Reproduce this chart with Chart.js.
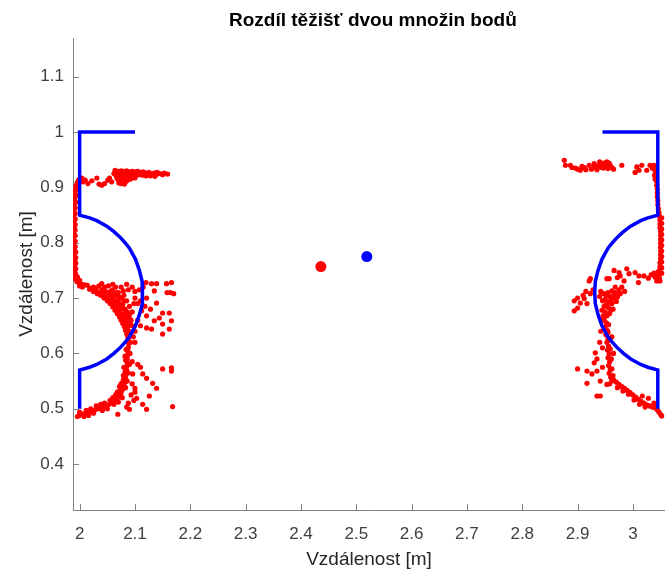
<!DOCTYPE html>
<html>
<head>
<meta charset="utf-8">
<script src="https://cdn.jsdelivr.net/npm/chart.js@4"></script>
<style>
html, body { margin: 0; padding: 0; background: #fff; }
</style>
</head>
<body>
<canvas id="myChart" width="665" height="573"></canvas>
<script>
// texts
const titleText = 'Rozdíl těžišť dvou množin bodů';
const xLabel = 'Vzdálenost [m]';
const yLabel = 'Vzdálenost [m]';

// tick labels
const xTicks = [2, 2.1, 2.2, 2.3, 2.4, 2.5, 2.6, 2.7, 2.8, 2.9, 3];
const yTicks = [0.4, 0.5, 0.6, 0.7, 0.8, 0.9, 1, 1.1];

// blue outlines (left / right)
const blueLeft = [[2.1,1.0],[2.0,1.0],[2.0,0.85],[2.018,0.845],[2.031,0.84],[2.049,0.83],[2.062,0.82],[2.073,0.81],[2.082,0.80],[2.090,0.79],[2.101,0.77],[2.108,0.75],[2.113,0.73],[2.114,0.71],[2.113,0.69],[2.108,0.67],[2.101,0.65],[2.090,0.63],[2.082,0.62],[2.073,0.61],[2.062,0.60],[2.049,0.59],[2.031,0.58],[2.018,0.575],[2.0,0.57],[2.0,0.5]];
const blueRight = [[2.945,1.0],[3.045,1.0],[3.045,0.85],[3.027,0.845],[3.014,0.84],[2.996,0.83],[2.983,0.82],[2.972,0.81],[2.963,0.80],[2.955,0.79],[2.944,0.77],[2.937,0.75],[2.932,0.73],[2.931,0.71],[2.932,0.69],[2.937,0.67],[2.944,0.65],[2.955,0.63],[2.963,0.62],[2.972,0.61],[2.983,0.60],[2.996,0.59],[3.014,0.58],[3.027,0.575],[3.045,0.57],[3.045,0.5]];

// centroids
const redCentroid = [2.436, 0.757];
const blueCentroid = [2.519, 0.775];

// red points - left side
const leftWall = [[1.990,0.74],[1.992,0.745],[1.990,0.75],[1.991,0.756],[1.989,0.762],[1.991,0.768],[1.990,0.774],[1.989,0.78],[1.991,0.786],[1.990,0.792],[1.989,0.798],[1.990,0.804],[1.989,0.81],[1.990,0.816],[1.989,0.822],[1.990,0.828],[1.989,0.834],[1.990,0.84],[1.989,0.846],[1.990,0.852],[1.989,0.858],[1.990,0.864],[1.990,0.87],[1.991,0.876],[1.991,0.882],[1.992,0.888],[1.992,0.894],[1.993,0.899],[1.994,0.904],[1.996,0.909],[1.998,0.913],[2.001,0.916],[2.004,0.917],
  [1.993,0.743],[1.993,0.753],[1.993,0.763],[1.993,0.773],[1.993,0.783],[1.992,0.793],[1.992,0.803],[1.992,0.813],[1.992,0.823],[1.992,0.833],[1.992,0.843],[1.992,0.853],[1.992,0.863],[1.993,0.873],[1.994,0.885],[1.996,0.897],[1.998,0.905],
  [1.992,0.735],[1.995,0.73],[1.999,0.727],[2.004,0.725],[2.009,0.724],[2.014,0.723],[2.005,0.72],[2.0,0.722],[1.996,0.738],[2.0,0.732]];
const leftTop = [[2.065,0.928],[2.07,0.929],[2.075,0.93],[2.08,0.929],[2.085,0.93],[2.09,0.928],[2.066,0.922],[2.072,0.923],[2.078,0.924],[2.084,0.923],[2.09,0.922],[2.068,0.916],[2.074,0.917],[2.08,0.918],[2.086,0.917],[2.072,0.911],[2.078,0.912],[2.084,0.911],[2.075,0.907],[2.081,0.906],[2.062,0.925],[2.07,0.914],
  [2.067,0.919],[2.073,0.926],[2.079,0.915],[2.083,0.927],[2.088,0.925],[2.077,0.92],[2.071,0.908],[2.086,0.913],[2.093,0.926],[2.064,0.931],
  [2.095,0.929],[2.1,0.928],[2.105,0.929],[2.11,0.927],[2.115,0.928],[2.12,0.926],[2.125,0.927],[2.13,0.925],[2.135,0.926],[2.14,0.924],[2.096,0.923],[2.102,0.922],[2.108,0.923],[2.114,0.922],[2.12,0.921],[2.128,0.921],[2.136,0.92],[2.145,0.925],[2.153,0.926],[2.159,0.924],[2.1,0.917],[2.092,0.915],
  [2.098,0.925],[2.104,0.925],[2.112,0.925],[2.118,0.924],[2.124,0.923],[2.132,0.923],[2.14,0.927],[2.15,0.923],
  [2.015,0.907],[2.031,0.917],[2.035,0.906],[2.04,0.904],[2.045,0.907],[2.051,0.913],[2.054,0.917],[2.006,0.91],[2.01,0.913],[2.022,0.912],[2.058,0.91]];
const leftDiag = [[2.018,0.716],[2.025,0.712],[2.032,0.708],[2.038,0.705],[2.044,0.70],[2.05,0.695],[2.055,0.69],[2.06,0.684],[2.064,0.678],[2.068,0.672],[2.072,0.666],[2.075,0.66],[2.078,0.654],[2.081,0.648],[2.083,0.642],[2.085,0.636],[2.087,0.63],
  [2.022,0.718],[2.029,0.714],[2.036,0.71],[2.042,0.707],[2.048,0.702],[2.053,0.697],[2.058,0.692],[2.062,0.687],[2.066,0.681],[2.07,0.675],[2.074,0.669],[2.077,0.663],[2.08,0.657],[2.083,0.651],[2.085,0.645],[2.087,0.639],
  [2.03,0.718],[2.04,0.715],[2.045,0.72],[2.05,0.71],[2.055,0.705],[2.06,0.715],[2.058,0.698],[2.065,0.705],[2.063,0.692],[2.07,0.695],[2.068,0.685],[2.074,0.688],[2.072,0.678],[2.078,0.68],[2.076,0.67],[2.082,0.672],[2.08,0.662],[2.085,0.665],[2.084,0.655],[2.088,0.658],[2.087,0.648],[2.09,0.64],[2.075,0.72],[2.07,0.71],[2.08,0.705],[2.085,0.695],[2.09,0.685],[2.095,0.675],[2.09,0.67],[2.093,0.66],[2.095,0.65],[2.06,0.725],[2.065,0.72],[2.085,0.725],[2.095,0.72],[2.1,0.712],[2.1,0.70],[2.105,0.69],[2.098,0.69],[2.088,0.715],[2.052,0.722],[2.04,0.726],[2.025,0.72],[2.035,0.722],
  [2.062,0.698],[2.067,0.69],[2.072,0.684],[2.078,0.688],[2.082,0.68],[2.076,0.7],[2.071,0.702],[2.067,0.71],[2.061,0.706],[2.056,0.712],[2.08,0.695],[2.086,0.675],[2.089,0.665],[2.092,0.652],[2.079,0.713],[2.046,0.712]];
const leftNeck = [[2.088,0.625],[2.089,0.618],[2.088,0.611],[2.087,0.604],[2.087,0.597],[2.086,0.59],[2.086,0.583],[2.085,0.576],[2.085,0.569],[2.084,0.562],[2.083,0.555],[2.082,0.548],[2.08,0.541],[2.078,0.535],[2.075,0.529],[2.072,0.523],[2.068,0.518],[2.063,0.514],[2.058,0.51],[2.052,0.507],[2.046,0.504],[2.04,0.502],[2.034,0.50],[2.028,0.498],[2.022,0.496],[2.016,0.494],[2.01,0.492],[2.004,0.49],[1.999,0.488],[1.996,0.486],
  [2.092,0.62],[2.091,0.60],[2.082,0.595],[2.09,0.58],[2.08,0.575],[2.079,0.56],[2.088,0.565],[2.086,0.55],[2.075,0.545],[2.072,0.54],[2.083,0.538],[2.068,0.53],[2.065,0.525],[2.077,0.52],[2.06,0.52],[2.055,0.515],[2.07,0.512],[2.045,0.51],[2.05,0.50],[2.038,0.508],[2.03,0.505],[2.025,0.492],[2.02,0.50],[2.012,0.497],[2.0,0.494],[2.008,0.486],
  [2.084,0.607],[2.083,0.588],[2.082,0.566],[2.079,0.552],[2.077,0.547],[2.073,0.533],[2.067,0.522],[2.062,0.508],[2.041,0.497],[2.016,0.488]];
const leftScatter = [[2.095,0.545],[2.1,0.53],[2.093,0.525],[2.088,0.51],[2.098,0.515],[2.085,0.503],[2.069,0.49],[2.09,0.499],[2.103,0.519],[2.1,0.537],[2.096,0.563],[2.114,0.563],[2.121,0.555],[2.132,0.546],[2.139,0.537],[2.126,0.523],[2.114,0.508],[2.121,0.499],[2.168,0.504],[2.15,0.572],[2.166,0.574],[2.166,0.568],[2.105,0.58],[2.11,0.575],[2.095,0.585],
  [2.13,0.726],[2.139,0.726],[2.157,0.726],[2.166,0.728],[2.164,0.71],[2.17,0.708],[2.158,0.71],[2.135,0.713],[2.121,0.70],[2.139,0.691],[2.15,0.673],[2.144,0.664],[2.162,0.673],[2.166,0.659],[2.15,0.653],[2.135,0.659],[2.121,0.646],[2.13,0.644],[2.162,0.644],[2.15,0.635],[2.121,0.668],[2.112,0.677],[2.108,0.715],[2.115,0.72],[2.12,0.728],[2.11,0.695],[2.105,0.66],[2.11,0.65],[2.1,0.64],[2.118,0.685],[2.128,0.68],[2.097,0.63],[2.1,0.62]];

// red points - right side
const rightTop = [[2.876,0.949],[2.878,0.94],[2.887,0.94],[2.896,0.935],[2.905,0.931],[2.912,0.936],[2.921,0.94],[2.93,0.937],[2.939,0.94],[2.948,0.944],[2.953,0.946],[2.959,0.94],[2.98,0.94],[2.925,0.933],[2.935,0.932],[2.943,0.936],[2.95,0.938],[2.955,0.934],[2.945,0.94],[2.94,0.946],[2.957,0.944],[2.915,0.932],[2.90,0.933],[2.89,0.936],[2.908,0.938],[2.93,0.943],[2.962,0.936],[2.965,0.933],
  [2.936,0.938],[2.944,0.943],[2.951,0.941],[2.947,0.935],[2.958,0.937],
  [3.007,0.937],[3.011,0.931],[3.004,0.927],[3.016,0.94],[3.025,0.931],[3.031,0.94]];
const rightWall = [[3.038,0.94],[3.041,0.937],[3.035,0.935],[3.04,0.93],[3.042,0.925],[3.042,0.918],[3.043,0.911],[3.043,0.904],[3.044,0.897],[3.044,0.89],[3.044,0.883],[3.045,0.876],[3.045,0.869],[3.046,0.862],[3.047,0.855],[3.048,0.848],[3.049,0.841],[3.049,0.834],[3.049,0.827],[3.05,0.82],[3.05,0.813],[3.05,0.806],[3.05,0.799],[3.05,0.792],[3.05,0.785],[3.05,0.778],[3.05,0.771],[3.049,0.764],[3.049,0.757],[3.048,0.75],[3.045,0.745],[3.042,0.742],[3.047,0.74],[3.044,0.736],[3.04,0.738],[3.048,0.735],[3.038,0.745],[3.052,0.745],
  [3.052,0.845],[3.052,0.835],[3.052,0.825],[3.052,0.815],[3.052,0.805],[3.052,0.795],[3.052,0.785],[3.052,0.775],[3.052,0.765],[3.052,0.755],[3.039,0.922],[3.04,0.915],[3.046,0.748],[3.043,0.731],[3.049,0.731]];
const rightMid = [[2.966,0.75],[2.975,0.746],[2.989,0.753],[2.993,0.744],[3.004,0.746],[3.011,0.74],[2.977,0.74],[2.923,0.735],[2.953,0.735],[2.957,0.735],[2.972,0.737],[2.984,0.731],[3.01,0.728],[3.02,0.74],[3.028,0.736],[3.033,0.742],[2.921,0.731],
  [2.894,0.695],[2.90,0.70],[2.905,0.691],[2.912,0.699],[2.894,0.677],[2.90,0.682],[2.917,0.69],[2.923,0.708],[2.91,0.705],[2.915,0.712],[2.928,0.715],
  [2.942,0.712],[2.948,0.708],[2.955,0.71],[2.962,0.713],[2.969,0.71],[2.977,0.708],[2.972,0.702],[2.965,0.70],[2.958,0.703],[2.95,0.698],[2.945,0.695],[2.955,0.692],[2.962,0.69],[2.97,0.694],[2.948,0.685],[2.956,0.683],[2.964,0.68],[2.95,0.675],[2.958,0.672],[2.946,0.668],[2.975,0.715],[2.98,0.72],[2.985,0.712],[2.968,0.72],[2.94,0.703],[2.944,0.678],
  [2.952,0.705],[2.96,0.696],[2.966,0.706],[2.952,0.688],[2.96,0.678],[2.953,0.668],[2.945,0.66]];
const rightLower = [[2.948,0.662],[2.952,0.655],[2.95,0.648],[2.954,0.641],[2.951,0.634],[2.955,0.627],[2.953,0.62],[2.956,0.613],[2.954,0.606],[2.957,0.599],[2.955,0.592],[2.958,0.585],[2.956,0.578],[2.959,0.571],[2.957,0.564],[2.96,0.557],[2.962,0.55],[2.958,0.545],
  [2.956,0.652],[2.955,0.638],[2.958,0.624],[2.959,0.608],[2.961,0.59],[2.962,0.572],[2.964,0.56],
  [2.965,0.552],[2.97,0.548],[2.975,0.544],[2.98,0.54],[2.985,0.537],[2.99,0.533],[2.995,0.529],[3.0,0.525],[3.005,0.521],[3.01,0.517],[3.015,0.513],[3.02,0.51],[3.025,0.507],[3.03,0.505],[3.035,0.503],[3.04,0.502],[3.044,0.498],[3.047,0.494],[3.05,0.49],[3.052,0.487],[2.972,0.538],[2.982,0.532],[2.992,0.526],[3.002,0.516],[3.012,0.508],[3.022,0.503],[3.004,0.517],[3.017,0.523],[3.028,0.519],[3.038,0.51],
  [2.932,0.601],[2.935,0.59],[2.93,0.583],[2.90,0.572],[2.917,0.568],[2.926,0.563],[2.935,0.568],[2.917,0.546],[2.941,0.55],[2.953,0.544],[2.935,0.523],[2.941,0.523],[2.945,0.61],[2.94,0.62],[2.942,0.64],[2.962,0.63],[2.965,0.60],[2.945,0.575]];

const toXY = arr => arr.map(p => ({ x: p[0], y: p[1] }));
const redPoints = [].concat(leftWall, leftTop, leftDiag, leftNeck, leftScatter, rightTop, rightWall, rightMid, rightLower);

const fontFamily = '"Liberation Sans", Arial, Helvetica, sans-serif';

// inward tick marks + title
const extras = {
    id: 'extras',
    beforeDatasetsDraw(chart) {
        const { ctx, chartArea: a, scales: { x, y } } = chart;
        ctx.save();
        ctx.strokeStyle = '#808080';
        ctx.lineWidth = 1;
        ctx.beginPath();
        xTicks.forEach(v => {
            const px = Math.round(x.getPixelForValue(v)) + 0.5;
            ctx.moveTo(px, a.bottom);
            ctx.lineTo(px, a.bottom - 6);
        });
        yTicks.forEach(v => {
            const py = Math.round(y.getPixelForValue(v)) + 0.5;
            ctx.moveTo(a.left, py);
            ctx.lineTo(a.left + 6, py);
        });
        ctx.stroke();
        ctx.restore();
    },
    afterDraw(chart) {
        const { ctx, scales: { x } } = chart;
        ctx.save();
        ctx.fillStyle = '#000';
        ctx.font = 'bold 19px ' + fontFamily;
        ctx.textAlign = 'center';
        ctx.textBaseline = 'middle';
        // MATLAB centres the title over the full axes, which runs past the picture
        ctx.fillText(titleText, x.getPixelForValue(2.53), 21);
        ctx.restore();
    }
};

const fmt = v => String(Math.round(v * 10) / 10);

const ctx = document.querySelector('#myChart').getContext('2d');
const myChart = new Chart(ctx, {
    type: 'scatter',
    data: {
        datasets: [
            { data: toXY(blueLeft), showLine: true, borderColor: '#0000ff', borderWidth: 3.5, pointRadius: 0, order: 0 },
            { data: toXY(blueRight), showLine: true, borderColor: '#0000ff', borderWidth: 3.5, pointRadius: 0, order: 0 },
            { data: toXY([redCentroid]), backgroundColor: '#ff0000', borderWidth: 0, pointRadius: 5.5, order: 0 },
            { data: toXY([blueCentroid]), backgroundColor: '#0000ff', borderWidth: 0, pointRadius: 5.5, order: 0 },
            { data: toXY(redPoints), backgroundColor: '#ff0000', borderWidth: 0, pointRadius: 2.6, order: 1 }
        ]
    },
    options: {
        responsive: false,
        animation: false,
        events: [],
        layout: { autoPadding: false, padding: { left: 0, right: 0, top: 38, bottom: 0 } },
        plugins: { legend: { display: false }, tooltip: { enabled: false }, title: { display: false } },
        scales: {
            x: {
                type: 'linear',
                min: 1.988,
                max: 3.058,
                afterBuildTicks: s => { s.ticks = xTicks.map(v => ({ value: v })); },
                afterFit: s => { s.height = 63; },
                grid: { display: false, drawTicks: false },
                border: { display: true, color: '#808080', width: 1 },
                ticks: { callback: fmt, color: '#404040', padding: 14, maxRotation: 0, font: { family: fontFamily, size: 17 } },
                title: { display: true, text: xLabel, color: '#262626', padding: { top: 0, bottom: 2 }, font: { family: fontFamily, size: 19 } }
            },
            y: {
                type: 'linear',
                min: 0.317,
                max: 1.17,
                afterBuildTicks: s => { s.ticks = yTicks.map(v => ({ value: v })); },
                afterFit: s => { s.width = 73; },
                grid: { display: false, drawTicks: false },
                border: { display: true, color: '#808080', width: 1 },
                ticks: { callback: fmt, color: '#404040', padding: 9, font: { family: fontFamily, size: 17 } },
                title: { display: true, text: yLabel, color: '#262626', padding: { top: 15, bottom: 0 }, font: { family: fontFamily, size: 19 } }
            }
        }
    },
    plugins: [extras]
});
</script>
</body>
</html>
